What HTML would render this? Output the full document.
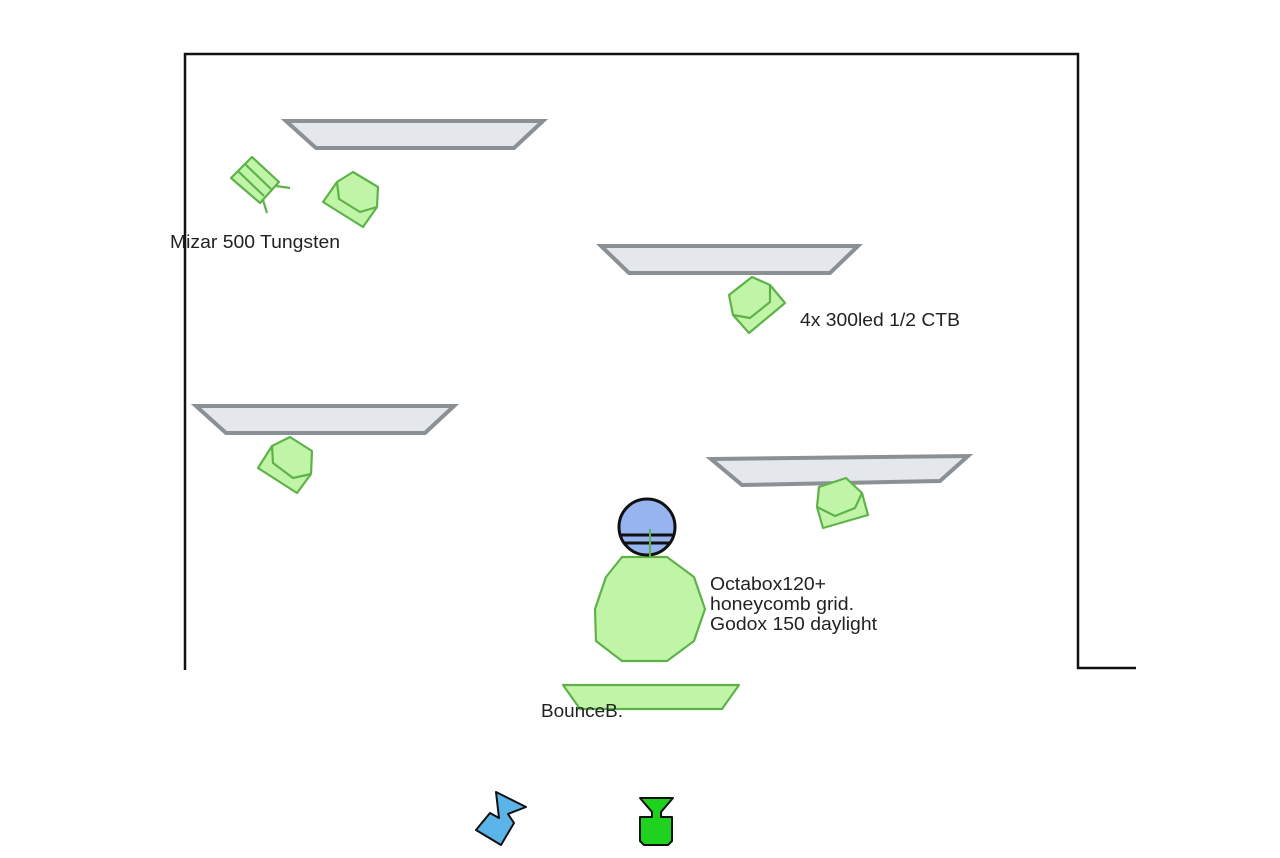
<!DOCTYPE html>
<html><head><meta charset="utf-8"><style>
html,body{margin:0;padding:0;background:#fff;}
svg{display:block;}
text{font-family:"Liberation Sans",sans-serif;font-size:18px;fill:#222;}
</style></head><body>
<svg width="1280" height="858" viewBox="0 0 1280 858" xmlns="http://www.w3.org/2000/svg">
<rect width="1280" height="858" fill="#fff"/>
<polyline points="185,670 185,54 1078,54 1078,668 1136,668" fill="none" stroke="#111" stroke-width="2.5"/>
<g fill="#e4e8ec" stroke="#8a9094" stroke-width="4" stroke-linejoin="miter">
<polygon points="286,121 543,121 514,148 316,148"/>
<polygon points="601,246 858,246 830,273 629,273"/>
<polygon points="196,406 454,406 425,433 226,433"/>
<polygon points="711,459 968,456 940,481 742,485"/>
</g>
<g fill="#c0f5a8" stroke="#5fb24a" stroke-width="2.2" stroke-linejoin="round">
<polygon points="323,202 337,182 353,172 378,187 377,207 363,227"/>
<polyline fill="none" points="337,182 339,199 360,212 377,207"/>
<polygon points="729,295 752,277 770,285 785,303 749,333 733,315"/>
<polyline fill="none" points="770,285 770,302 750,318 733,315"/>
<polygon points="258,468 272,446 290,437 312,451 311,474 297,493"/>
<polyline fill="none" points="272,446 273,463 293,478 311,474"/>
<polygon points="817,507 819,487 846,478 862,493 868,515 823,528"/>
<polyline fill="none" points="862,493 855,508 835,516 817,507"/>
<polygon points="231,178 252,157 279,182 260,203"/>
<line x1="238" y1="171" x2="264" y2="196"/>
<line x1="245" y1="164" x2="271" y2="189"/>
<line x1="276" y1="186" x2="290" y2="188"/>
<line x1="263" y1="200" x2="267" y2="213"/>
<polygon points="622,557 667,557 694,577 705,609 694,641 667,661 622,661 596,641 595,609 606,577"/>
<polygon points="563,685 739,685 722,709 580,709"/>
</g>
<circle cx="647" cy="527" r="28" fill="#96b4f0" stroke="#111" stroke-width="3"/>
<line x1="621" y1="535" x2="673" y2="535" stroke="#111" stroke-width="3"/>
<line x1="623" y1="543" x2="671" y2="543" stroke="#111" stroke-width="3"/>
<line x1="650" y1="529" x2="650" y2="557" stroke="#5fb24a" stroke-width="2"/>
<polygon points="476,830 490,813 499,818 496,792 526,807 508,814 514,823 501,845" fill="#5ab4e8" stroke="#111" stroke-width="2" stroke-linejoin="round"/>
<polygon points="640,798 673,798 661,812 661,817 672,817 672,841 668,845 644,845 640,841 640,817 652,817 652,812" fill="#1ed21e" stroke="#111" stroke-width="2" stroke-linejoin="round"/>
<text x="170" y="248" textLength="170" lengthAdjust="spacingAndGlyphs">Mizar 500 Tungsten</text>
<text x="800" y="326" textLength="160" lengthAdjust="spacingAndGlyphs">4x 300led 1/2 CTB</text>
<text x="710" y="590" textLength="116" lengthAdjust="spacingAndGlyphs">Octabox120+</text>
<text x="710" y="610" textLength="144" lengthAdjust="spacingAndGlyphs">honeycomb grid.</text>
<text x="710" y="630" textLength="167" lengthAdjust="spacingAndGlyphs">Godox 150 daylight</text>
<text x="541" y="717" textLength="82" lengthAdjust="spacingAndGlyphs">BounceB.</text>
</svg>
</body></html>
